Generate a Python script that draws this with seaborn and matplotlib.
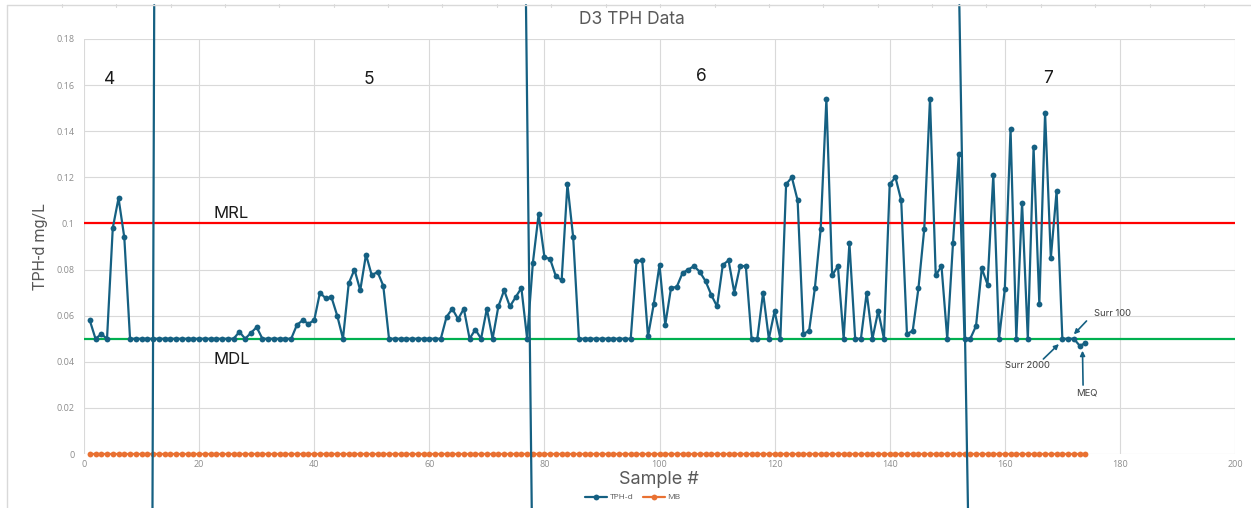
import matplotlib
matplotlib.use("Agg")
import matplotlib.pyplot as plt
from matplotlib.lines import Line2D
from matplotlib import font_manager
import numpy as np
import pandas as pd
import seaborn as sns

# ---- data ---------------------------------------------------------------
sample_ids = list(range(1, 175))

tph_d = [
    0.058, 0.050, 0.052, 0.050, 0.098, 0.111, 0.094, 0.050, 0.050, 0.050,
    0.050, 0.050, 0.050, 0.050, 0.050, 0.050, 0.050, 0.050, 0.050, 0.050,
    0.050, 0.050, 0.050, 0.050, 0.050, 0.050, 0.053, 0.050, 0.0525, 0.055,
    0.050, 0.050, 0.050, 0.050, 0.050, 0.050, 0.056, 0.058, 0.0565, 0.058,
    0.070, 0.0675, 0.068, 0.060, 0.050, 0.074, 0.080, 0.071, 0.0865, 0.0775,
    0.079, 0.073, 0.050, 0.050, 0.050, 0.050, 0.050, 0.050, 0.050, 0.050,
    0.050, 0.050, 0.0595, 0.063, 0.0585, 0.063, 0.050, 0.054, 0.050, 0.063,
    0.050, 0.064, 0.071, 0.064, 0.068, 0.072, 0.050, 0.083, 0.104, 0.0855,
    0.0845, 0.077, 0.0755, 0.117, 0.094, 0.050, 0.050, 0.050, 0.050, 0.050,
    0.050, 0.050, 0.050, 0.050, 0.050, 0.0835, 0.084, 0.051, 0.065, 0.082,
    0.056, 0.072, 0.0725, 0.0785, 0.080, 0.0815, 0.079, 0.075, 0.069, 0.064,
    0.082, 0.084, 0.070, 0.0815, 0.0815, 0.050, 0.050, 0.070, 0.050, 0.062,
    0.050, 0.117, 0.120, 0.110, 0.052, 0.0535, 0.072, 0.0975, 0.154, 0.0775,
    0.0815, 0.050, 0.0915, 0.050, 0.050, 0.070, 0.050, 0.062, 0.050, 0.117,
    0.120, 0.110, 0.052, 0.0535, 0.072, 0.0975, 0.154, 0.0775, 0.0815, 0.050,
    0.0915, 0.130, 0.050, 0.050, 0.0555, 0.0805, 0.0735, 0.121, 0.050, 0.0715,
    0.141, 0.050, 0.109, 0.050, 0.133, 0.065, 0.148, 0.085, 0.114, 0.050,
    0.050, 0.050, 0.047, 0.048,
]

method_blank = [
    0.0, 0.0, 0.0, 0.0, 0.0, 0.0, 0.0, 0.0, 0.0, 0.0, 0.0, 0.0, 0.0, 0.0, 0.0,
    0.0, 0.0, 0.0, 0.0, 0.0, 0.0, 0.0, 0.0, 0.0, 0.0, 0.0, 0.0, 0.0, 0.0, 0.0,
    0.0, 0.0, 0.0, 0.0, 0.0, 0.0, 0.0, 0.0, 0.0, 0.0, 0.0, 0.0, 0.0, 0.0, 0.0,
    0.0, 0.0, 0.0, 0.0, 0.0, 0.0, 0.0, 0.0, 0.0, 0.0, 0.0, 0.0, 0.0, 0.0, 0.0,
    0.0, 0.0, 0.0, 0.0, 0.0, 0.0, 0.0, 0.0, 0.0, 0.0, 0.0, 0.0, 0.0, 0.0, 0.0,
    0.0, 0.0, 0.0, 0.0, 0.0, 0.0, 0.0, 0.0, 0.0, 0.0, 0.0, 0.0, 0.0, 0.0, 0.0,
    0.0, 0.0, 0.0, 0.0, 0.0, 0.0, 0.0, 0.0, 0.0, 0.0, 0.0, 0.0, 0.0, 0.0, 0.0,
    0.0, 0.0, 0.0, 0.0, 0.0, 0.0, 0.0, 0.0, 0.0, 0.0, 0.0, 0.0, 0.0, 0.0, 0.0,
    0.0, 0.0, 0.0, 0.0, 0.0, 0.0, 0.0, 0.0, 0.0, 0.0, 0.0, 0.0, 0.0, 0.0, 0.0,
    0.0, 0.0, 0.0, 0.0, 0.0, 0.0, 0.0, 0.0, 0.0, 0.0, 0.0, 0.0, 0.0, 0.0, 0.0,
    0.0, 0.0, 0.0, 0.0, 0.0, 0.0, 0.0, 0.0, 0.0, 0.0, 0.0, 0.0, 0.0, 0.0, 0.0,
    0.0, 0.0, 0.0, 0.0, 0.0, 0.0, 0.0, 0.0, 0.0,
]

mrl = 0.1    # method reporting limit
mdl = 0.05   # method detection limit

x_ticks = [0, 20, 40, 60, 80, 100, 120, 140, 160, 180, 200]
y_ticks = [0, 0.02, 0.04, 0.06, 0.08, 0.1, 0.12, 0.14, 0.16, 0.18]
y_tick_labels = ["0", "0.02", "0.04", "0.06", "0.08", "0.1", "0.12", "0.14", "0.16", "0.18"]

# batch numbers and where each batch label sits
batch_labels = ["4", "5", "6", "7"]
batch_label_x = [4.5, 49.5, 107.2, 167.6]
batch_label_y = [0.1626, 0.1626, 0.1636, 0.1628]

# hand-drawn batch separators (slightly slanted): x at top / bottom
sep_x_top = [12.2, 76.8, 152.1]
sep_x_bottom = [11.9, 77.8, 153.6]
sep_y_top, sep_y_bottom = 0.1947, -0.0234

# ---- style --------------------------------------------------------------
sns.set_style("white")
plt.rcParams["font.family"] = ["Open Sans", "DejaVu Sans"]

TEAL = "#156082"
ORANGE = "#E97132"
RED = "#FF0000"
GREEN = "#00B050"
GRID = "#D9D9D9"
TICK = "#8C8C8C"
LABEL = "#595959"
WIDE = ["Inter", "DejaVu Sans"]

W, H = 1251, 508
fig = plt.figure(figsize=(W / 100, H / 100), dpi=100)
ax = fig.add_axes([84 / W, 1 - 454 / H, (1235 - 84) / W, (454 - 39) / H])

df = pd.DataFrame({
    "Sample #": sample_ids * 2,
    "value": tph_d + method_blank,
    "series": ["TPH-d"] * len(tph_d) + ["MB"] * len(method_blank),
})

sns.lineplot(data=df[df.series == "MB"], x="Sample #", y="value", ax=ax,
             color=ORANGE, linewidth=1.6, marker="o", markersize=4.2,
             markeredgewidth=0, label="MB", zorder=3, clip_on=False)
sns.lineplot(data=df[df.series == "TPH-d"], x="Sample #", y="value", ax=ax,
             color=TEAL, linewidth=1.6, marker="o", markersize=4.2,
             markeredgewidth=0, label="TPH-d", zorder=4)

ax.axhline(mrl, color=RED, linewidth=1.6, zorder=2)
ax.axhline(mdl, color=GREEN, linewidth=1.6, zorder=2)

ax.set_xlim(0, 200)
ax.set_ylim(0, 0.18)
ax.set_xticks(x_ticks)
ax.set_yticks(y_ticks)
ax.set_yticklabels(y_tick_labels)
ax.grid(True, color=GRID, linewidth=0.8)
ax.set_axisbelow(True)
for s in ax.spines.values():
    s.set_visible(False)
ax.tick_params(length=0, labelsize=6.5, colors=TICK)
ax.tick_params(axis="y", pad=7)
ax.tick_params(axis="x", pad=4)
ax.set_xlabel("")
ax.set_ylabel("")
ax.get_legend().remove()

# batch separators
for xt, xb in zip(sep_x_top, sep_x_bottom):
    ax.plot([xt, xb], [sep_y_top, sep_y_bottom], color=TEAL, linewidth=1.6,
            clip_on=False, zorder=5)

# batch numbers
for lab, bx, by in zip(batch_labels, batch_label_x, batch_label_y):
    ax.text(bx, by, lab, ha="center", va="center", fontsize=12.5,
            color="#1a1a1a", family=WIDE)

ax.text(25.6, 0.1041, "MRL", ha="center", va="center", fontsize=12,
        color="#1a1a1a", family=WIDE)
ax.text(25.6, 0.0408, "MDL", ha="center", va="center", fontsize=12,
        color="#1a1a1a", family=WIDE)

# QC sample call-outs: text and arrow drawn separately
arrow_kw = dict(arrowstyle="-|>", color=TEAL, lw=1.2, mutation_scale=7,
                shrinkA=0, shrinkB=0)
qc_text = dict(fontsize=6.8, color="#404040", ha="center", va="center", family=WIDE)
ax.text(178.7, 0.0609, "Surr 100", **qc_text)
ax.annotate("", xy=(172.0, 0.0519), xytext=(174.2, 0.0577), arrowprops=arrow_kw)
ax.text(163.9, 0.0383, "Surr 2000", **qc_text)
ax.annotate("", xy=(169.4, 0.0477), xytext=(166.7, 0.0412), arrowprops=arrow_kw)
ax.text(174.3, 0.0263, "MEQ", **qc_text)
ax.annotate("", xy=(173.5, 0.0448), xytext=(173.6, 0.0299), arrowprops=arrow_kw)

# titles
fig.text(631.7 / W, 1 - 20 / H, "D3 TPH Data", ha="center", va="center",
         fontsize=12.5, color=LABEL, family=WIDE)
fig.text(659 / W, 1 - 480 / H, "Sample #", ha="center", va="center",
         fontsize=13, color=LABEL, family=WIDE)
names = {f.name for f in font_manager.fontManager.ttflist}
narrow = "Liberation Sans Narrow" if "Liberation Sans Narrow" in names else "Roboto"
fig.text(40 / W, 1 - 247 / H, "TPH-d mg/L", ha="center", va="center",
         rotation=90, fontsize=11.5, color=LABEL, family=[narrow, "DejaVu Sans"])

# legend below the plot
handles = [
    Line2D([], [], color=TEAL, linewidth=1.6, marker="o", markersize=4.2, markeredgewidth=0),
    Line2D([], [], color=ORANGE, linewidth=1.6, marker="o", markersize=4.2, markeredgewidth=0),
]
fig.legend(handles, ["TPH-d", "MB"], loc="center", bbox_to_anchor=(633 / W, 1 - 497.5 / H),
           ncol=2, frameon=False, fontsize=6, labelcolor=LABEL,
           handlelength=2.6, handletextpad=0.3, columnspacing=1.2)

# outer chart-area frame (left and top edges)
fig.add_artist(Line2D([7 / W, 7 / W], [0, 1 - 5 / H], color=GRID, linewidth=1))
fig.add_artist(Line2D([7 / W, 1], [1 - 5 / H, 1 - 5 / H], color=GRID, linewidth=1))
for tx in np.arange(61.7, W, 54.4):
    fig.add_artist(Line2D([tx / W, tx / W], [1 - 3.5 / H, 1 - 6.5 / H], color=GRID, linewidth=0.8))

fig.savefig("out.png", dpi=100)
